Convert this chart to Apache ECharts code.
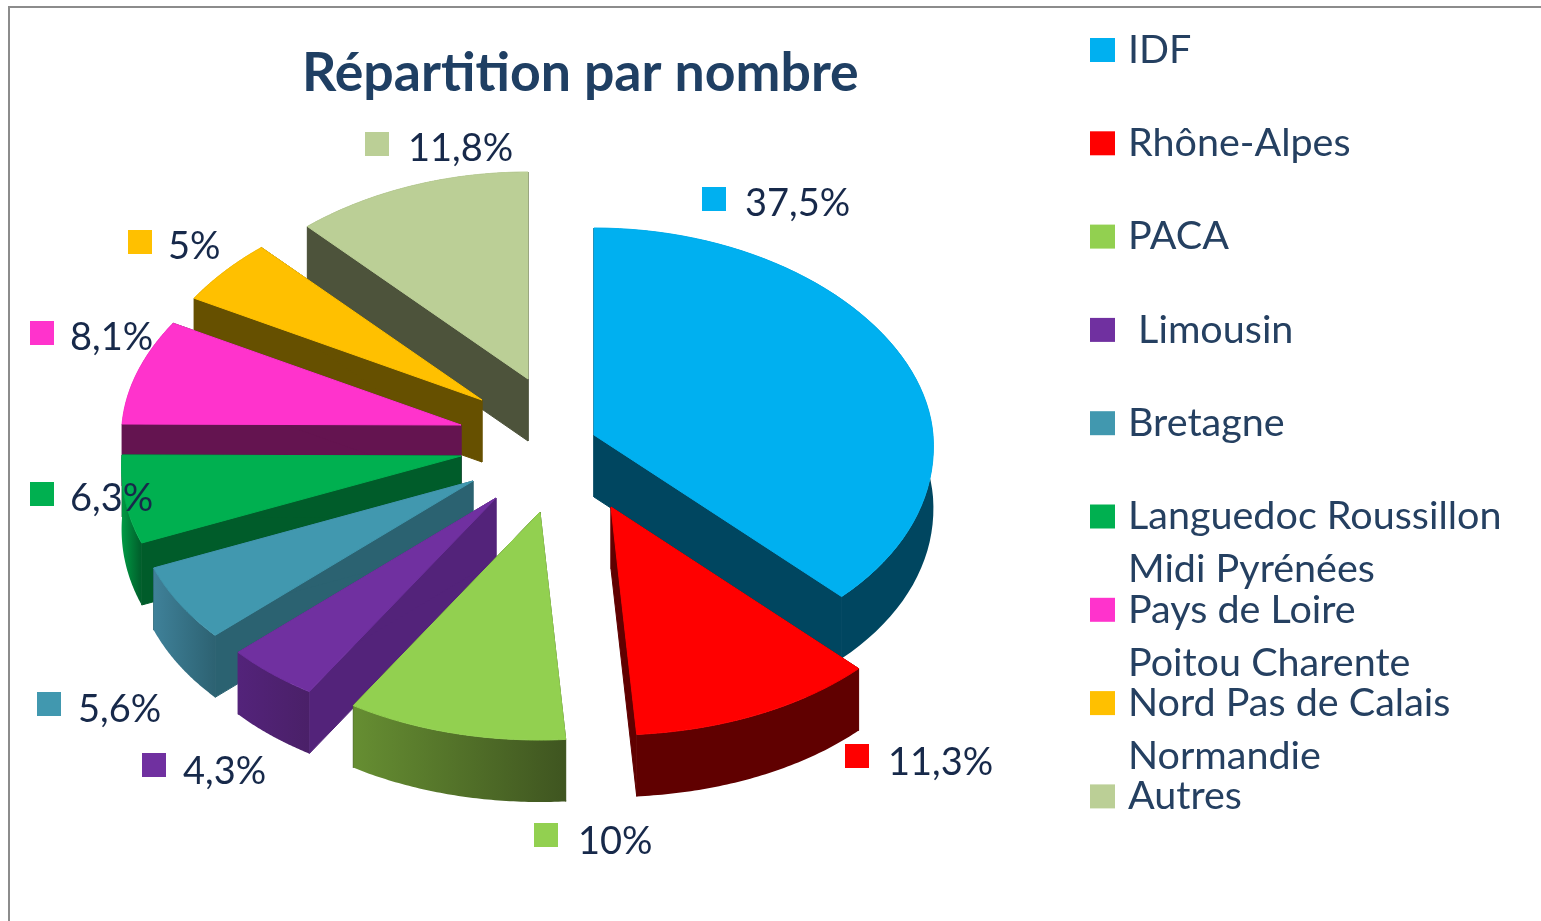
<!DOCTYPE html>
<html>
<head>
<meta charset="utf-8">
<title>Répartition par nombre</title>
<script src="https://cdn.jsdelivr.net/npm/echarts@6/dist/echarts.min.js"></script>
<style>
html, body { margin: 0; padding: 0; background: #fff; }
#box { width: 1541px; height: 921px; }
</style>
</head>
<body>
<div id="box"></div>
<script>
// données
var categories = ['IDF', 'Rhône-Alpes', 'PACA', 'Limousin', 'Bretagne', 'Languedoc Roussillon Midi Pyrénées', 'Pays de Loire Poitou Charente', 'Nord Pas de Calais Normandie', 'Autres'];
var values = [37.5, 11.3, 10, 4.3, 5.6, 6.3, 8.1, 5, 11.8];
var legendLine1 = ['IDF', 'Rhône-Alpes', 'PACA', ' Limousin', 'Bretagne', 'Languedoc Roussillon', 'Pays de Loire', 'Nord Pas de Calais', 'Autres'];
var legendLine2 = ['', '', '', '', '', 'Midi Pyrénées', 'Poitou Charente', 'Normandie', ''];

// couleurs : dessus, face coupée, mur (gauche -> droite)
var topColors = ['#00B0F0', '#FF0000', '#92D050', '#7030A0', '#4198AF', '#00B050', '#FF33CC', '#FFC000', '#BBCF96'];
var cutColors = ['#004660', '#600000', '#3F5520', '#53237A', '#2B6271', '#005C2A', '#641450', '#665000', '#4D533B'];
var wallLeft = ['#004660', '#600000', '#668E32', '#53237A', '#3F8199', '#009A44', '#641450', '#665000', '#4D533B'];
var wallRight = ['#004660', '#600000', '#3F5520', '#4A2068', '#2D6272', '#005C2A', '#641450', '#665000', '#4D533B'];

// mise en page
var center = [520, 440];
var radiusX = 339, radiusBack = 207, radiusFront = 228, depth = 62;
var explode = [[74, -5], [91, 67], [20, 72], [-24, 58], [-47, 41], [-59, 16], [-59, -15], [-38, -40], [8, -61]];
var drawOrder = [1, 9, 8, 7, 6, 5, 4, 3, 2];
var keyPos = [[702, 187], [845, 744], [534, 823], [142, 753], [37, 692], [30, 482], [30, 321], [128, 230], [365, 132]];
var labelGap = [43, 43, 44, 41, 41, 40, 40, 40, 43];
var labelDy = [17, 19, 19, 19, 18, 17, 17, 17, 17];

var total = values.reduce(function (a, b) { return a + b; }, 0);

function project(apex, angle) {
    var s = Math.sin(angle), c = Math.cos(angle);
    var rx = radiusX * (1 - 0.05 * c); // plus large vers l'avant
    var ry = c > 0 ? radiusBack : radiusFront;
    return [apex[0] + rx * s, apex[1] - ry * c];
}

function down(p) {
    return [p[0], p[1] + depth];
}

function makeRender(index, startValue) {
    return function (params, api) {
        var start = startValue / total * Math.PI * 2;
        var end = (startValue + api.value(0)) / total * Math.PI * 2;
        var apex = [center[0] + explode[index][0], center[1] + explode[index][1]];
        var arc = [];
        var steps = 60;
        for (var i = 0; i <= steps; i++) {
            arc.push(project(apex, start + (end - start) * i / steps));
        }
        var first = arc[0], last = arc[arc.length - 1];
        var wall = arc.concat(arc.slice().reverse().map(down));
        var key = keyPos[index];
        return {
            type: 'group',
            children: [
                {
                    type: 'polygon',
                    shape: { points: [apex, first, down(first), down(apex)] },
                    style: { fill: cutColors[index], stroke: cutColors[index], lineWidth: 1 }
                },
                {
                    type: 'polygon',
                    shape: { points: [apex, last, down(last), down(apex)] },
                    style: { fill: cutColors[index], stroke: cutColors[index], lineWidth: 1 }
                },
                {
                    type: 'polygon',
                    shape: { points: wall },
                    style: {
                        fill: new echarts.graphic.LinearGradient(0, 0, 1, 0, [
                            { offset: 0, color: wallLeft[index] },
                            { offset: 1, color: wallRight[index] }
                        ])
                    }
                },
                {
                    type: 'polygon',
                    shape: { points: [apex].concat(arc) },
                    style: { fill: topColors[index], stroke: topColors[index], lineWidth: 1 }
                },
                {
                    type: 'rect',
                    shape: { x: key[0], y: key[1], width: 24, height: 24 },
                    style: { fill: topColors[index] }
                },
                {
                    type: 'text',
                    style: {
                        x: key[0] + labelGap[index],
                        y: key[1] + labelDy[index],
                        text: String(api.value(0)).replace('.', ',') + '%',
                        fill: '#17294A',
                        font: '38px Lato',
                        verticalAlign: 'middle'
                    }
                }
            ]
        };
    };
}

var seriesList = [];
var cumul = 0;
categories.forEach(function (name, i) {
    seriesList.push({
        name: name,
        type: 'custom',
        coordinateSystem: 'none',
        z: drawOrder[i],
        silent: true,
        itemStyle: { color: topColors[i] },
        renderItem: makeRender(i, cumul),
        data: [[values[i]]]
    });
    cumul += values[i];
});

// deuxième ligne des entrées de légende
var extraLines = [];
legendLine2.forEach(function (text, i) {
    if (text) {
        extraLines.push({
            type: 'text',
            left: 1128,
            top: 31 + i * 93.3 + 52,
            style: { text: text, fill: '#254061', font: '39.5px Lato' }
        });
    }
});

var myChart = echarts.init(document.getElementById('box'));
var option = {
    animation: false,
    backgroundColor: '#fff',
    title: {
        text: 'Répartition par nombre',
        left: 302,
        top: 47,
        padding: 0,
        textStyle: {
            color: '#1F3F63',
            fontFamily: 'Lato',
            fontWeight: 'bold',
            fontSize: 53.6
        }
    },
    legend: {
        orient: 'vertical',
        left: 1090,
        top: 28,
        padding: 0,
        selectedMode: false,
        icon: 'rect',
        itemWidth: 25,
        itemHeight: 24,
        itemGap: 49.3,
        data: categories,
        formatter: function (name) {
            return legendLine1[categories.indexOf(name)];
        },
        textStyle: {
            color: '#254061',
            fontFamily: 'Lato',
            fontSize: 39.5,
            lineHeight: 44,
            padding: [0, 0, 0, 8]
        }
    },
    graphic: extraLines.concat([
        {
            type: 'polyline',
            shape: { points: [[1541, 7], [9, 7], [9, 921]] },
            style: { stroke: '#8C8C8C', lineWidth: 2, fill: null }
        }
    ]),
    series: seriesList
};

option && myChart.setOption(option);
</script>
</body>
</html>
